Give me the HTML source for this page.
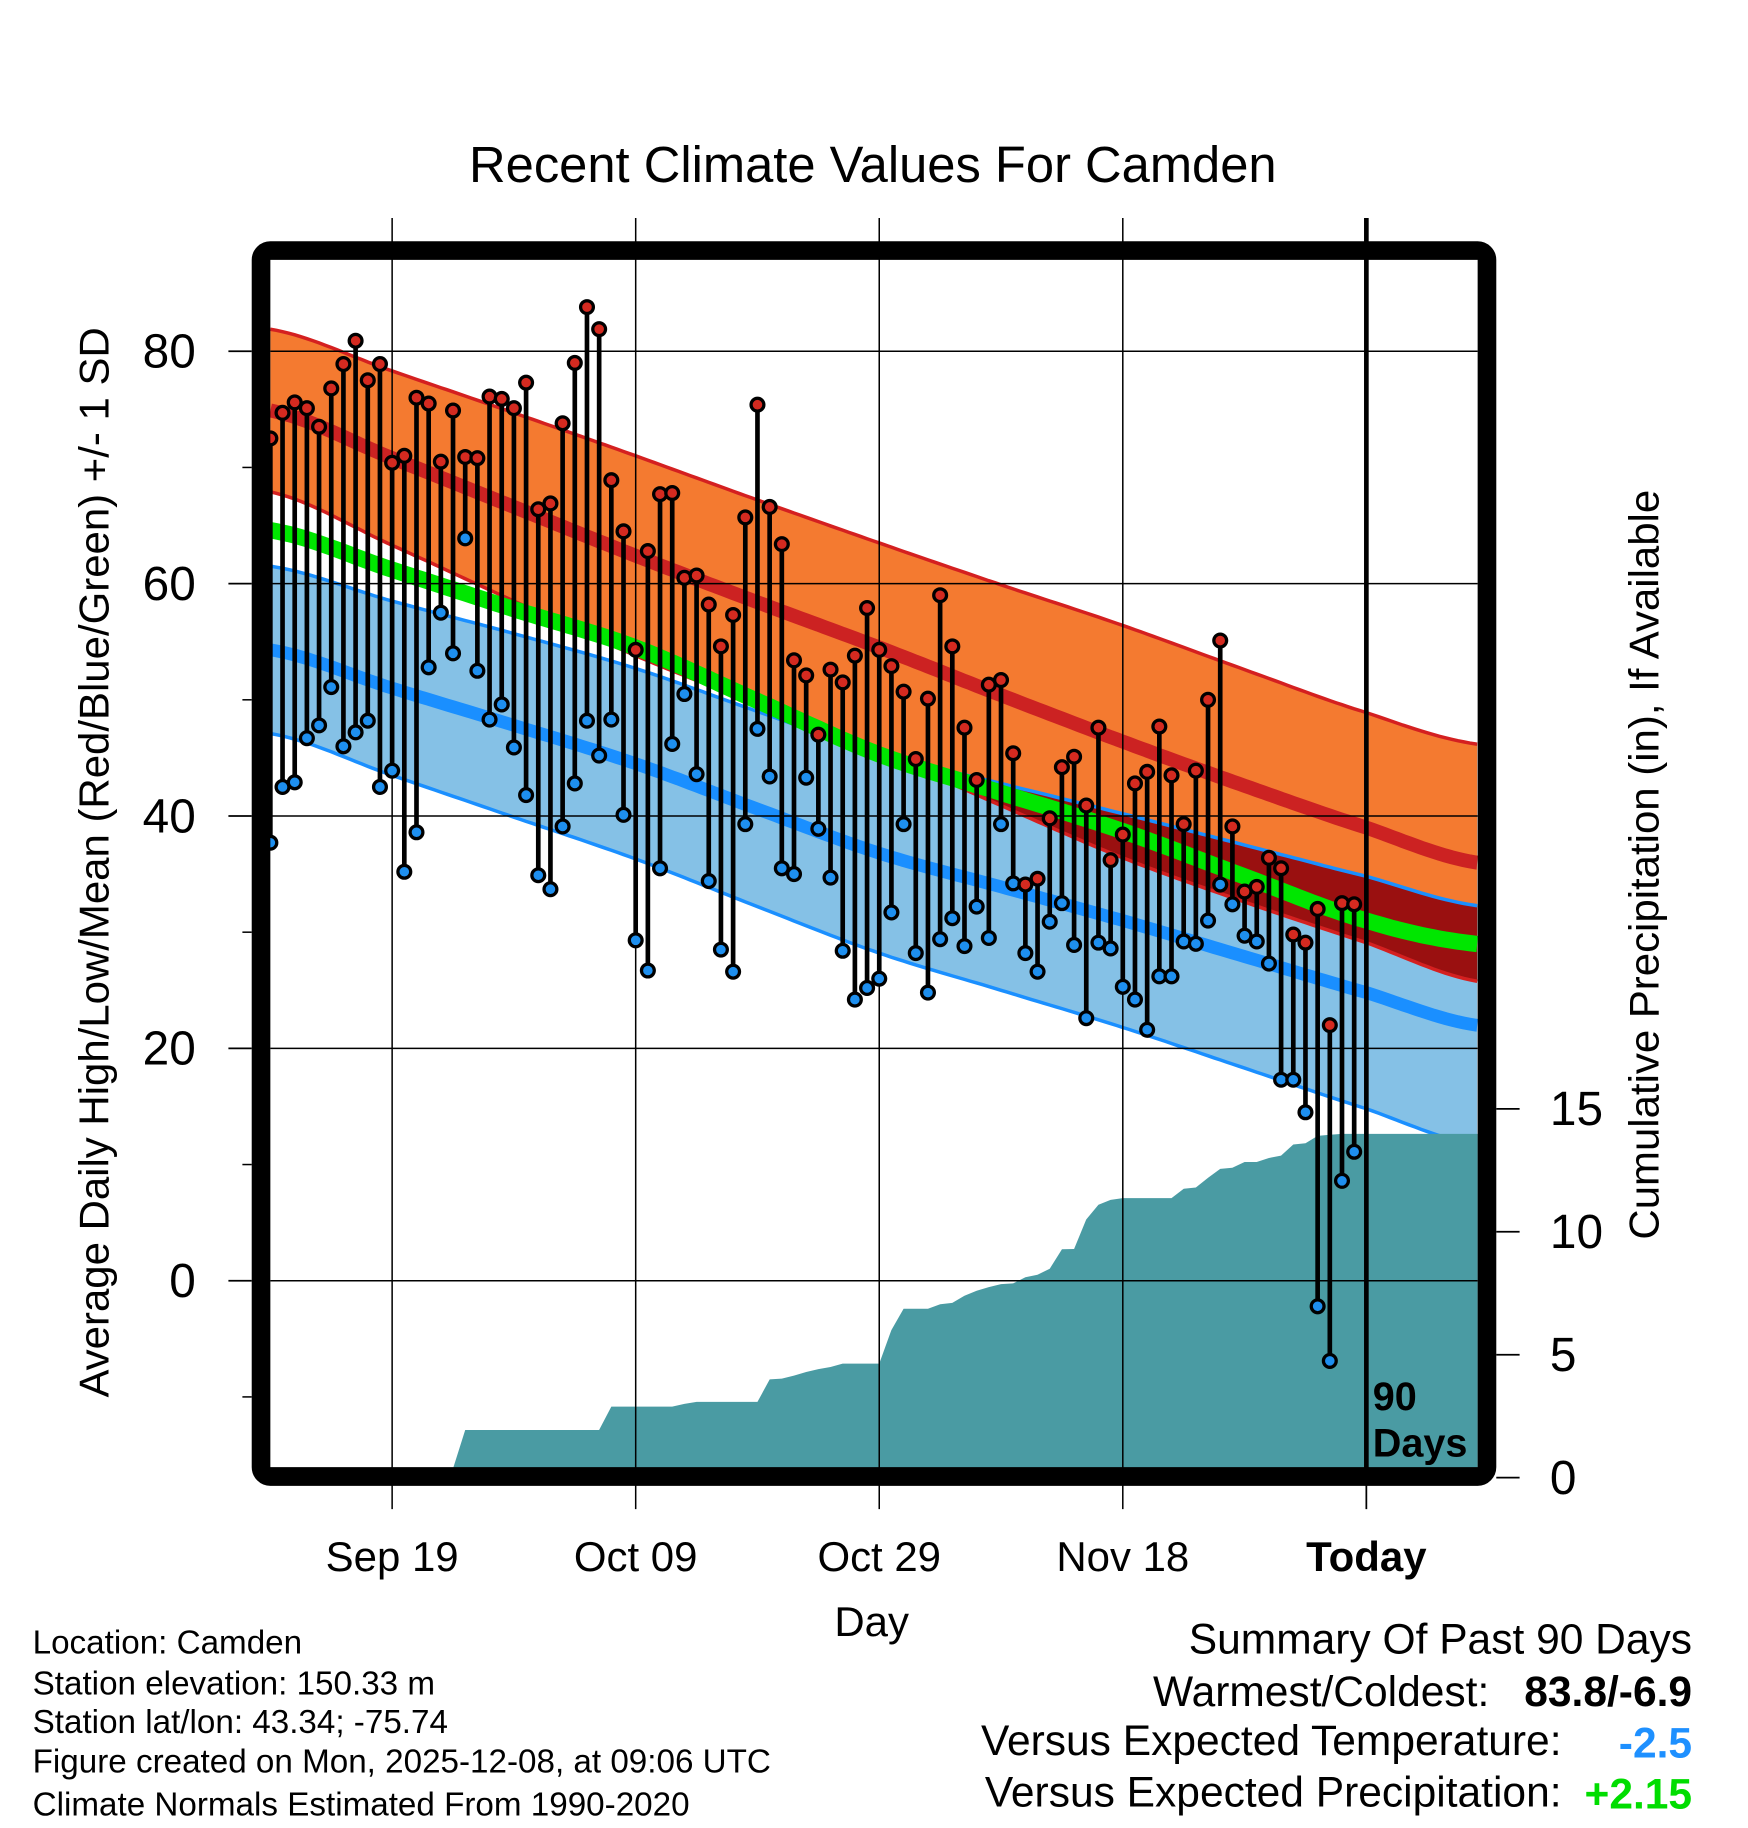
<!DOCTYPE html>
<html><head><meta charset="utf-8"><style>
html,body{margin:0;padding:0;background:#fff;}
svg{display:block;font-family:"Liberation Sans",sans-serif;}
</style></head><body>
<svg id="chart" width="1748" height="1828" viewBox="0 0 1500 1568.6" xmlns="http://www.w3.org/2000/svg">
<text x="749" y="156" font-size="43.5" text-anchor="middle">Recent Climate Values For Camden</text>
<g id="bands"></g>
<g id="precip"></g>
<g id="grid"></g>
<g id="marks"></g>
<rect x="224" y="215" width="1052" height="1052" rx="8" fill="none" stroke="#000" stroke-width="16"/>
<g id="axes"></g>
<text x="1178" y="1210" font-size="34" font-weight="bold">90</text>
<text x="1178" y="1250" font-size="34" font-weight="bold">Days</text>
<text transform="translate(93,740) rotate(-90)" font-size="36" text-anchor="middle">Average Daily High/Low/Mean (Red/Blue/Green) +/- 1 SD</text>
<text transform="translate(1423,742) rotate(-90)" font-size="36" text-anchor="middle">Cumulative Precipitation (in), If Available</text>
<text x="748" y="1404" font-size="36" text-anchor="middle">Day</text>
<g font-size="28.5">
<text x="28" y="1419">Location: Camden</text>
<text x="28" y="1454">Station elevation: 150.33 m</text>
<text x="28" y="1487">Station lat/lon: 43.34; -75.74</text>
<text x="28" y="1521">Figure created on Mon, 2025-12-08, at 09:06 UTC</text>
<text x="28" y="1558">Climate Normals Estimated From 1990-2020</text>
</g>
<g font-size="36.5">
<text x="1452" y="1419" text-anchor="end">Summary Of Past 90 Days</text>
<text x="1278" y="1464" text-anchor="end">Warmest/Coldest:</text>
<text x="1452" y="1464" text-anchor="end" font-weight="bold">83.8/-6.9</text>
<text x="1340" y="1506" text-anchor="end">Versus Expected Temperature:</text>
<text x="1452" y="1508" text-anchor="end" font-weight="bold" fill="#1e90ff">-2.5</text>
<text x="1340" y="1550" text-anchor="end">Versus Expected Precipitation:</text>
<text x="1452" y="1552" text-anchor="end" font-weight="bold" fill="#00dd00">+2.15</text>
</g>
</svg>
<script>
const knotDays=[0,10,20,30,40,50,60,70,80,90,99];
const highMean=[74.9,70.8,66.6,62.4,58.4,54.5,50.4,46.4,42.6,39.0,36.0];
const highSD=[7.0,7.5,8.1,8.6,8.8,9.0,9.5,10.0,10.0,9.9,10.2];
const avgMean=[64.6,61.2,57.8,54.5,49.9,45.3,42.0,38.7,34.8,31.0,29.0];
const lowMean=[54.3,51.0,47.8,44.5,40.6,36.8,33.9,31.0,27.9,24.8,22.0];
const lowSD=[7.2,7.5,7.9,8.2,8.4,8.6,8.9,9.2,9.6,10.0,10.3];
const highs=[72.5,74.7,75.6,75.1,73.5,76.8,78.9,80.9,77.5,78.9,70.4,71.0,76.0,75.5,70.5,74.9,70.9,70.8,76.1,75.9,75.1,77.3,66.4,66.9,73.8,79.0,83.8,81.9,68.9,64.5,54.3,62.8,67.7,67.8,60.5,60.7,58.2,54.6,57.3,65.7,75.4,66.6,63.4,53.4,52.1,47.0,52.6,51.5,53.8,57.9,54.3,52.9,50.7,44.9,50.1,59.0,54.6,47.6,43.1,51.3,51.7,45.4,34.1,34.6,39.8,44.2,45.1,40.9,47.6,36.2,38.4,42.8,43.8,47.7,43.5,39.3,43.9,50.0,55.1,39.1,33.5,33.9,36.4,35.5,29.8,29.1,32.0,22.0,32.5,32.4];
const lows=[37.7,42.5,42.9,46.7,47.8,51.1,46.0,47.2,48.2,42.5,43.9,35.2,38.6,52.8,57.5,54.0,63.9,52.5,48.3,49.6,45.9,41.8,34.9,33.7,39.1,42.8,48.2,45.2,48.3,40.1,29.3,26.7,35.5,46.2,50.5,43.6,34.4,28.5,26.6,39.3,47.5,43.4,35.5,35.0,43.3,38.9,34.7,28.4,24.2,25.2,26.0,31.7,39.3,28.2,24.8,29.4,31.2,28.8,32.2,29.5,39.3,34.2,28.2,26.6,30.9,32.5,28.9,22.6,29.1,28.6,25.3,24.2,21.6,26.2,26.2,29.2,29.0,31.0,34.1,32.4,29.7,29.2,27.3,17.3,17.3,14.5,-2.2,-6.9,8.6,11.1];
const precip=[0,0,0,0,0,0,0,0,0,0,0,0,0,0,0,0,1.94,1.94,1.94,1.94,1.94,1.94,1.94,1.94,1.94,1.94,1.94,1.94,2.89,2.89,2.89,2.89,2.89,2.89,3.0,3.08,3.08,3.08,3.08,3.08,3.08,4.0,4.03,4.15,4.3,4.41,4.5,4.64,4.64,4.64,4.64,6.0,6.87,6.87,6.87,7.05,7.11,7.4,7.6,7.75,7.87,7.9,8.15,8.25,8.5,9.29,9.3,10.5,11.1,11.3,11.37,11.37,11.37,11.37,11.37,11.75,11.8,12.2,12.56,12.6,12.84,12.84,13.0,13.1,13.55,13.6,13.9,13.95,13.98,13.98];
const yTicks=[80,60,40,20,0];
const yMinor=[70,50,30,10,-10];
const pTicks=[0,5,10,15];
const xTickDays=[10,30,50,70,90];
const xTickLabels=["Sep 19","Oct 09","Oct 29","Nov 18","Today"];

const NS="http://www.w3.org/2000/svg";
const X=d=>232+d*10.45;
const Y=t=>1099-t*9.97;
const P=p=>1268-p*21.1;
const L=232,R=1268,T=222,B=1260;
function mk(tag,attrs,parent){const e=document.createElementNS(NS,tag);for(const k in attrs)e.setAttribute(k,attrs[k]);parent.appendChild(e);return e;}
function interp(arr,d){
 // Catmull-Rom through knots for smooth normals
 const n=knotDays.length;let i=0;while(i<n-2&&d>knotDays[i+1])i++;
 const t=(d-knotDays[i])/(knotDays[i+1]-knotDays[i]);
 const p0=arr[Math.max(0,i-1)],p1=arr[i],p2=arr[i+1],p3=arr[Math.min(n-1,i+2)];
 return 0.5*((2*p1)+(-p0+p2)*t+(2*p0-5*p1+4*p2-p3)*t*t+(-p0+3*p1-3*p2+p3)*t*t*t);
}
const samples=[];for(let d=0;d<=99.1;d+=0.5)samples.push(d);samples.push(99.1);
const curve=f=>samples.map(d=>[X(d),Y(f(d))]);
const pstr=pts=>pts.map(p=>p[0].toFixed(1)+","+p[1].toFixed(1)).join(" ");
const hu=d=>interp(highMean,d)+interp(highSD,d), hl=d=>interp(highMean,d)-interp(highSD,d);
const lu=d=>interp(lowMean,d)+interp(lowSD,d), ll=d=>interp(lowMean,d)-interp(lowSD,d);
const bands=document.getElementById('bands');
let e;
e=mk('polygon',{points:pstr(curve(hu).concat(curve(hl).reverse())),fill:'#f47a30'},bands);

e=mk('polygon',{points:pstr(curve(lu).concat(curve(ll).reverse())),fill:'#85c1e6'},bands);

e=mk('polygon',{points:pstr(curve(d=>Math.max(lu(d),hl(d))).concat(curve(hl).reverse())),fill:'#9a1010'},bands);

e=mk('polyline',{points:pstr(curve(hu)),fill:'none',stroke:'#d42020','stroke-width':3},bands);

e=mk('polyline',{points:pstr(curve(hl)),fill:'none',stroke:'#d42020','stroke-width':3},bands);

e=mk('polyline',{points:pstr(curve(lu)),fill:'none',stroke:'#1a8fff','stroke-width':3},bands);

e=mk('polyline',{points:pstr(curve(ll)),fill:'none',stroke:'#1a8fff','stroke-width':3},bands);

e=mk('polyline',{points:pstr(curve(d=>interp(highMean,d))),fill:'none',stroke:'#cc2222','stroke-width':12},bands);

e=mk('polyline',{points:pstr(curve(d=>interp(avgMean,d))),fill:'none',stroke:'#00e600','stroke-width':14},bands);

e=mk('polyline',{points:pstr(curve(d=>interp(lowMean,d))),fill:'none',stroke:'#1a8fff','stroke-width':11},bands);


const pg=document.getElementById('precip');
let pts=[[X(0),B]];
precip.forEach((v,i)=>{pts.push([X(i),Math.min(B,P(v))]);});
pts.push([R,Math.min(B,P(precip[precip.length-1]))]);pts.push([R,B]);
e=mk('polygon',{points:pstr(pts),fill:'#4a9ba3'},pg);


const g=document.getElementById('grid');
yTicks.forEach(t=>{e=mk('line',{x1:L,x2:R,y1:Y(t),y2:Y(t),stroke:'#000','stroke-width':1.3},g);
});
xTickDays.forEach((d,i)=>{const last=i===xTickDays.length-1;
e=mk('line',{x1:X(d),x2:X(d),y1:187,y2:last?1260:1295,stroke:'#000','stroke-width':last?4:1.3},g);

if(last){e=mk('line',{x1:X(d),x2:X(d),y1:1260,y2:1295,stroke:'#000','stroke-width':1.5},g);
}});

const m=document.getElementById('marks');
highs.forEach((h,i)=>{
 e=mk('line',{x1:X(i),x2:X(i),y1:Y(h),y2:Y(lows[i]),stroke:'#000','stroke-width':4},m);
 
});
highs.forEach((h,i)=>{
 e=mk('circle',{cx:X(i),cy:Y(h),r:5.5,fill:'#d42a20',stroke:'#000','stroke-width':2.8},m);
 
 e=mk('circle',{cx:X(i),cy:Y(lows[i]),r:5.5,fill:'#1e8fef',stroke:'#000','stroke-width':2.8},m);
 
});

const a=document.getElementById('axes');
yTicks.forEach(t=>{e=mk('line',{x1:196,x2:216,y1:Y(t),y2:Y(t),stroke:'#000','stroke-width':1.5},a);

e=mk('text',{x:168,y:Y(t)+14,'font-size':41,'text-anchor':'end'},a);e.textContent=t;
});
yMinor.forEach(t=>{e=mk('line',{x1:208,x2:216,y1:Y(t),y2:Y(t),stroke:'#000','stroke-width':1.3},a);
});
pTicks.forEach(p=>{e=mk('line',{x1:1284,x2:1304,y1:P(p),y2:P(p),stroke:'#000','stroke-width':1.5},a);

e=mk('text',{x:1330,y:P(p)+14,'font-size':41},a);e.textContent=p;
});
xTickDays.forEach((d,i)=>{e=mk('text',{x:X(d),y:1348,'font-size':36,'text-anchor':'middle','font-weight':i===4?'bold':'normal'},a);
e.textContent=xTickLabels[i];
});
</script>
</body></html>
